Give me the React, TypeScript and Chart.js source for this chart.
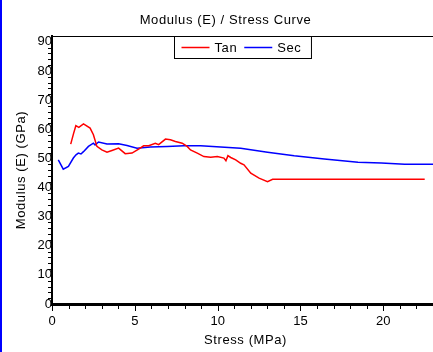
import React, { useEffect, useRef } from "react";
import { Chart, registerables } from "chart.js";

Chart.register(...registerables);

const titleText = "Modulus (E) / Stress Curve";
const xTitle = "Stress (MPa)";
const yTitle = "Modulus (E) (GPa)";
const seriesNames = ["Tan", "Sec"];
const seriesColors = ["#ff0000", "#0000ff"];

const xTicks = [0, 5, 10, 15, 20];
const yTicks = [0, 10, 20, 30, 40, 50, 60, 70, 80, 90];

const tanStress = [1.13, 1.3, 1.44, 1.62, 1.9, 2.3, 2.5, 2.71, 3.01, 3.32, 3.62, 4.02, 4.42, 4.83, 5.23, 5.53, 5.84, 6.24, 6.44, 6.85, 7.15, 7.45, 7.86, 8.16, 8.36, 8.77, 9.17, 9.58, 9.98, 10.38, 10.5, 10.62, 10.79, 11.09, 11.39, 11.59, 12.0, 12.5, 13.01, 13.32, 22.5];
const tanModulus = [54.9, 58.5, 61.2, 60.6, 61.8, 60.4, 58.1, 54.1, 52.9, 52.1, 52.7, 53.5, 51.6, 51.8, 53.2, 54.3, 54.3, 55.2, 54.7, 56.6, 56.4, 55.8, 55.2, 54.1, 52.9, 51.8, 50.6, 50.4, 50.6, 50.1, 49.2, 50.9, 50.3, 49.5, 48.3, 47.8, 44.9, 43.2, 42.0, 42.8, 42.8];

const secStress = [0.38, 0.68, 0.99, 1.29, 1.45, 1.59, 1.75, 1.9, 2.2, 2.5, 2.6, 2.81, 3.32, 4.02, 4.53, 5.13, 5.94, 6.95, 7.96, 8.97, 10.18, 11.39, 13.01, 14.62, 16.44, 18.47, 19.88, 21.29, 23.0];
const secModulus = [49.5, 46.3, 47.2, 50.1, 51.2, 51.8, 51.5, 52.3, 54.1, 55.2, 54.6, 55.6, 54.9, 55.0, 54.4, 53.5, 53.9, 54.1, 54.3, 54.3, 53.9, 53.5, 52.1, 50.9, 49.8, 48.7, 48.4, 48.0, 48.0];

const FONT = "'Liberation Sans', Arial, sans-serif";

const overlay = {
  id: "overlay",
  afterDraw(chart: any) {
    const { ctx, chartArea: a, scales } = chart;
    const x = scales.x;
    const y = scales.y;
    ctx.save();
    ctx.strokeStyle = "#000";
    ctx.lineWidth = 1;
    ctx.beginPath();
    ctx.moveTo(a.left, a.top + 0.5);
    ctx.lineTo(a.right, a.top + 0.5);
    ctx.stroke();
    for (let v = 0; v <= x.max; v += 1) {
      const px = Math.round(x.getPixelForValue(v)) + 0.5;
      const len = v % 5 === 0 ? 5 : 3;
      ctx.beginPath();
      ctx.moveTo(px, a.bottom + 1);
      ctx.lineTo(px, a.bottom + 2 + len);
      ctx.stroke();
    }
    for (let v = 2; v <= 90; v += 2) {
      if (v % 10 === 0) continue;
      const py = Math.round(y.getPixelForValue(v)) + 0.5;
      ctx.beginPath();
      ctx.moveTo(a.left - 1, py);
      ctx.lineTo(a.left - 4, py);
      ctx.stroke();
    }

    ctx.fillStyle = "#000";
    ctx.font = `13px ${FONT}`;
    (ctx as any).letterSpacing = "0.6px";
    ctx.textBaseline = "middle";
    ctx.textAlign = "center";
    ctx.fillText(titleText, chart.width / 2 + 8, 20);
    ctx.fillText(xTitle, (a.left + a.right) / 2 + 3, 340);
    ctx.save();
    ctx.translate(19, (a.top + a.bottom) / 2);
    ctx.rotate(-Math.PI / 2);
    ctx.fillText(yTitle, 0, 0);
    ctx.restore();

    ctx.textAlign = "left";
    const w0 = ctx.measureText(seriesNames[0]).width;
    const w1 = ctx.measureText(seriesNames[1]).width;
    const pad = 7, lineLen = 28, gap = 5, itemGap = 7;
    const boxW = pad + lineLen + gap + w0 + itemGap + lineLen + gap + w1 + pad + 3;
    const boxH = 22;
    const bx = Math.round((a.left + a.right) / 2 - boxW / 2) + 0.5;
    const by = a.top + 0.5;
    ctx.fillStyle = "#fff";
    ctx.fillRect(bx, by, boxW, boxH);
    ctx.strokeStyle = "#000";
    ctx.lineWidth = 1;
    ctx.strokeRect(bx, by, boxW, boxH);
    const cy = by + boxH / 2;
    let cx = bx + pad;
    const widths = [w0, w1];
    for (let i = 0; i < 2; i++) {
      ctx.strokeStyle = seriesColors[i];
      ctx.lineWidth = 1.5;
      ctx.beginPath();
      ctx.moveTo(cx, cy);
      ctx.lineTo(cx + lineLen, cy);
      ctx.stroke();
      cx += lineLen + gap;
      ctx.fillStyle = "#000";
      ctx.fillText(seriesNames[i], cx, cy + 0.5);
      cx += widths[i] + itemGap;
    }
    ctx.restore();
  },
};

export default function App() {
  const ref = useRef<HTMLCanvasElement>(null);
  useEffect(() => {
    if (!ref.current) return;
    const chart = new Chart(ref.current, {
      type: "line",
      data: {
        datasets: [
          {
            label: seriesNames[0],
            data: tanStress.map((s, i) => ({ x: s, y: tanModulus[i] })),
            borderColor: seriesColors[0],
            borderWidth: 1.5,
            pointRadius: 0,
            tension: 0,
            fill: false,
          },
          {
            label: seriesNames[1],
            data: secStress.map((s, i) => ({ x: s, y: secModulus[i] })),
            borderColor: seriesColors[1],
            borderWidth: 1.5,
            pointRadius: 0,
            tension: 0,
            fill: false,
          },
        ],
      },
      options: {
        animation: false,
        responsive: false,
        layout: { padding: { top: 36, left: 0, right: 0, bottom: 0 } },
        plugins: {
          legend: { display: false },
          title: { display: false },
          tooltip: { enabled: false },
        },
        scales: {
          x: {
            type: "linear",
            min: 0,
            max: 23,
            afterBuildTicks: (s: any) => {
              s.ticks = xTicks.map((v) => ({ value: v }));
            },
            afterFit: (s: any) => {
              s.height = 48;
            },
            grid: { display: false, drawTicks: false },
            border: { display: true, width: 3, color: "#000" },
            ticks: {
              padding: 10,
              color: "#000",
              font: { size: 13, family: FONT },
              maxRotation: 0,
              autoSkip: false,
            },
          },
          y: {
            type: "linear",
            min: 0,
            max: 92,
            afterBuildTicks: (s: any) => {
              s.ticks = yTicks.map((v) => ({ value: v }));
            },
            afterFit: (s: any) => {
              s.width = 50;
            },
            grid: { display: false, drawTicks: false },
            border: { display: true, width: 2, color: "#000" },
            ticks: {
              padding: 0,
              color: "#000",
              font: { size: 13, family: FONT },
              autoSkip: false,
            },
          },
        },
      },
      plugins: [overlay],
    } as any);
    return () => chart.destroy();
  }, []);
  return (
    <div
      style={{
        position: "fixed",
        left: 0,
        top: 0,
        width: 433,
        height: 352,
        borderLeft: "2px solid #0000ff",
        boxSizing: "border-box",
        background: "#fff",
        overflow: "hidden",
      }}
    >
      <canvas ref={ref} width={431} height={352} style={{ display: "block", width: 431, height: 352 }} />
    </div>
  );
}
